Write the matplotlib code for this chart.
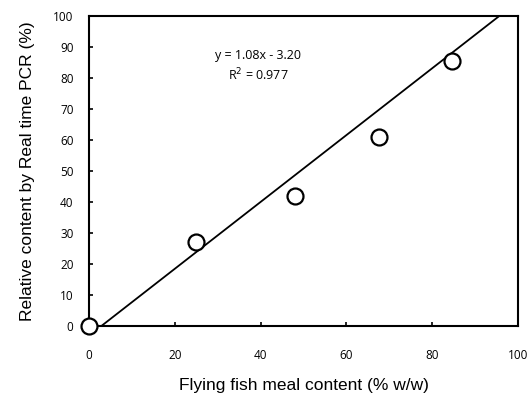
import matplotlib
matplotlib.use("Agg")
import matplotlib.pyplot as plt
import numpy as np

x_vals = [0, 25, 48, 67.5, 84.5]
y_vals = [0, 27, 42, 61, 85.5]
slope = 1.08
intercept = -3.20
r2 = 0.977
ticks = [0, 20, 40, 60, 80, 100]
yticks = [0, 10, 20, 30, 40, 50, 60, 70, 80, 90, 100]

fig = plt.figure(figsize=(5.32, 3.94), dpi=100)
ax = fig.add_axes([0.167, 0.173, 0.807, 0.786])

xl = np.array([0, 100])
ax.plot(xl, slope * xl + intercept, color="black", lw=1.3, zorder=2)
ax.plot(x_vals, y_vals, "o", mfc="white", mec="black", ms=11.5, mew=1.6,
        zorder=3, clip_on=False)

ax.set_xlim(0, 100)
ax.set_ylim(0, 100)
ax.set_xticks(ticks)
ax.set_yticks(yticks)
ax.tick_params(direction="in", length=3, width=1.2, labelsize=8.5,
               colors="black")
ax.tick_params(axis="x", pad=17)
ax.tick_params(axis="y", pad=11)
for lab in ax.get_xticklabels() + ax.get_yticklabels():
    lab.set_family("Open Sans")
for s in ax.spines.values():
    s.set_linewidth(1.5)

ax.text(0.394, 0.874, "y = 1.08x - 3.20", transform=ax.transAxes, ha="center",
        va="center", fontsize=9, family="Open Sans")
ax.text(0.394, 0.81, "R$^2$ = 0.977", transform=ax.transAxes, ha="center",
        va="center", fontsize=9, family="Open Sans")

ax.set_xlabel("Flying fish meal content (% w/w)", fontsize=12.5,
              family="Liberation Sans", labelpad=11)
ax.set_ylabel("Relative content by Real time PCR (%)", fontsize=12.5,
              family="Liberation Sans", labelpad=13)

fig.savefig("out.png", dpi=100)
